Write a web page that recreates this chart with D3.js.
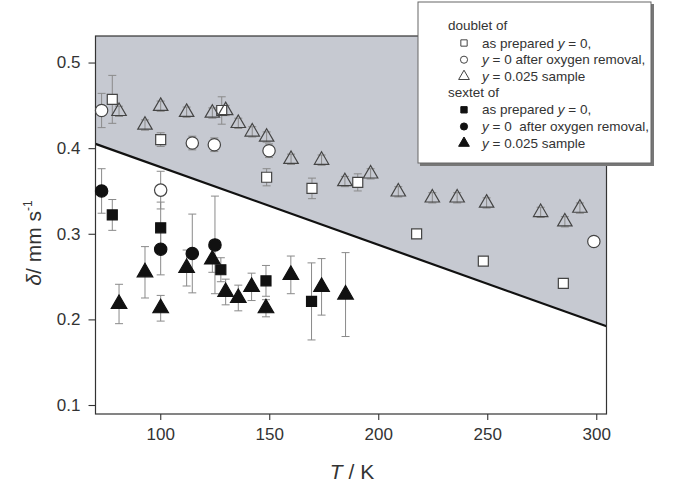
<!DOCTYPE html>
<html>
<head>
<meta charset="utf-8">
<script src="https://cdn.jsdelivr.net/npm/d3@7"></script>
<style>
  body { margin: 0; background: #fff; }
  text { font-family: "Liberation Sans", Arial, sans-serif; fill: #333; }
</style>
</head>
<body>
<div class="graph"></div>
<script>
// [T (K), delta (mm/s), error]
const doubletPrepared = [[78.0,0.457,0.028],[100.2,0.410,0.008],[128.2,0.444,0.016],[148.8,0.366,0.010],[169.6,0.353,0.012],[190.6,0.360,0.010],[217.6,0.300,0.005],[248.2,0.268,0.005],[284.9,0.242,0.005]];
const doubletRemoved = [[73.1,0.444,0.020],[100.2,0.351,0.022],[114.7,0.406,0.008],[124.8,0.404,0.008],[149.9,0.397,0.008],[298.9,0.291,0.004]];
const doubletSample = [[81.1,0.443,0.006],[93.0,0.427,0.006],[100.2,0.449,0.006],[112.1,0.442,0.006],[123.9,0.441,0.006],[130.0,0.444,0.006],[135.8,0.429,0.006],[142.2,0.419,0.006],[148.8,0.413,0.006],[160.0,0.387,0.006],[174.0,0.386,0.006],[184.7,0.361,0.006],[196.5,0.370,0.006],[209.2,0.349,0.006],[224.8,0.342,0.006],[236.2,0.342,0.006],[249.7,0.336,0.006],[274.5,0.325,0.006],[285.6,0.314,0.006],[292.5,0.330,0.006]];
const sextetPrepared = [[78.0,0.322,0.018],[100.2,0.307,0.030],[127.8,0.258,0.014],[148.5,0.245,0.018],[169.4,0.221,0.045]];
const sextetRemoved = [[73.1,0.350,0.026],[100.2,0.282,0.030],[114.7,0.277,0.046],[125.1,0.287,0.057]];
const sextetSample = [[81.1,0.218,0.023],[93.0,0.255,0.030],[100.2,0.213,0.015],[112.1,0.260,0.021],[123.9,0.270,0.015],[130.0,0.232,0.015],[135.8,0.225,0.015],[141.9,0.238,0.016],[148.5,0.213,0.010],[159.9,0.252,0.022],[174.0,0.238,0.033],[185.0,0.229,0.049]];
// boundary line (T, delta)
const lineT = [70.3, 304.7];
const lineV = [0.405, 0.192];
const xTicks = [100, 150, 200, 250, 300];
const yTicks = [0.1, 0.2, 0.3, 0.4, 0.5];
const legendGroups = ["doublet of", "sextet of"];
const legendLabels = ["as prepared |y| = 0,", "|y| = 0 after oxygen removal,", "|y| = 0.025 sample",
                      "as prepared |y| = 0,", "|y| = 0  after oxygen removal,", "|y| = 0.025 sample"];

const W = 699, H = 486;
const m = {left: 95.5, right: 92.5, top: 36, bottom: 72};

const svg = d3.select('.graph').append('svg')
    .attr('width', W).attr('height', H);

const x = d3.scaleLinear().domain([70.3, 304.7]).range([m.left, W - m.right]);
const y = d3.scaleLinear().domain([0.0895, 0.531]).range([H - m.bottom, m.top]);

// zone grise au-dessus de la droite
svg.append('path')
    .attr('d', 'M' + x(lineT[0]) + ',' + y(0.531) + 'L' + x(lineT[1]) + ',' + y(0.531) +
               'L' + x(lineT[1]) + ',' + y(lineV[1]) + 'L' + x(lineT[0]) + ',' + y(lineV[0]) + 'Z')
    .attr('fill', '#c6c9d1');

svg.append('line')
    .attr('x1', x(lineT[0])).attr('y1', y(lineV[0]))
    .attr('x2', x(lineT[1])).attr('y2', y(lineV[1]))
    .attr('stroke', '#111').attr('stroke-width', 2.2);

// cadre
svg.append('rect')
    .attr('x', m.left).attr('y', m.top)
    .attr('width', W - m.left - m.right).attr('height', H - m.top - m.bottom)
    .attr('fill', 'none').attr('stroke', '#333').attr('stroke-width', 1.2);

// axes
const xAxis = svg.append('g').attr('transform', 'translate(0,' + (H - m.bottom) + ')');
xAxis.call(d3.axisBottom(x).tickValues(d3.range(75, 305, 25)).tickSize(4).tickFormat(''));
xAxis.call(d3.axisBottom(x).tickValues(xTicks).tickSize(6).tickPadding(8).tickFormat(d3.format('d')));
const yAxis = svg.append('g').attr('transform', 'translate(' + m.left + ',0)');
yAxis.call(d3.axisLeft(y).tickValues([0.15, 0.25, 0.35, 0.45]).tickSize(4).tickFormat(''));
yAxis.call(d3.axisLeft(y).tickValues(yTicks).tickSize(7).tickPadding(8).tickFormat(d3.format('.1f')));
svg.selectAll('.domain').remove();
svg.selectAll('.tick line').attr('stroke', '#333').attr('stroke-width', 1.1);
svg.selectAll('.tick text').style('font-size', '17px').attr('fill', '#333');

// titres des axes
const xt = svg.append('text').attr('x', 352).attr('y', 479).attr('text-anchor', 'middle').style('font-size', '21px');
xt.append('tspan').style('font-style', 'italic').text('T');
xt.append('tspan').text(' / K');
const yt = svg.append('text').attr('transform', 'translate(41,243) rotate(-90)')
    .attr('text-anchor', 'middle').style('font-size', '21px');
yt.append('tspan').style('font-style', 'italic').text('δ');
yt.append('tspan').text('/ mm s');
yt.append('tspan').attr('dy', -9).style('font-size', '12px').text('-1');

// séries
const series = [
  {data: doubletPrepared, shape: d3.symbolSquare, size: 100, fill: '#fff'},
  {data: doubletRemoved, shape: d3.symbolCircle, size: 120, fill: '#fff'},
  {data: doubletSample, shape: d3.symbolTriangle, size: 90, fill: 'none'},
  {data: sextetPrepared, shape: d3.symbolSquare, size: 100, fill: '#111'},
  {data: sextetRemoved, shape: d3.symbolCircle, size: 120, fill: '#111'},
  {data: sextetSample, shape: d3.symbolTriangle, size: 105, fill: '#111'}
];

const bars = svg.append('g');
series.forEach(function (s) {
  s.data.forEach(function (d) {
    const cx = x(d[0]);
    bars.append('line').attr('x1', cx).attr('x2', cx)
        .attr('y1', y(d[1] - d[2])).attr('y2', y(d[1] + d[2]));
    [d[1] - d[2], d[1] + d[2]].forEach(function (v) {
      bars.append('line').attr('x1', cx - 4).attr('x2', cx + 4)
          .attr('y1', y(v)).attr('y2', y(v));
    });
  });
});
bars.selectAll('line').attr('stroke', '#8a8a8a').attr('stroke-width', 1);

series.forEach(function (s) {
  svg.append('g').selectAll('path').data(s.data).enter().append('path')
      .attr('d', d3.symbol().type(s.shape).size(s.size))
      .attr('transform', d => 'translate(' + x(d[0]) + ',' + y(d[1]) + ')')
      .attr('fill', s.fill)
      .attr('stroke', s.fill === '#111' ? '#111' : '#444')
      .attr('stroke-width', 1.2);
});

// légende
const lg = svg.append('g');
lg.append('rect').attr('x', 420).attr('y', 4).attr('width', 234).attr('height', 162).attr('fill', '#777');
lg.append('rect').attr('x', 418).attr('y', 2).attr('width', 233).attr('height', 161)
    .attr('fill', '#fff').attr('stroke', '#666').attr('stroke-width', 1);
legendGroups.forEach(function (g, i) {
  lg.append('text').attr('x', 448).attr('y', 30 + i * 67).style('font-size', '13.5px').text(g);
});
legendLabels.forEach(function (l, i) {
  const cy = 43 + i * 16.7 + (i >= 3 ? 16.7 : 0);
  const s = series[i];
  lg.append('path')
      .attr('d', d3.symbol().type(s.shape).size(s.shape === d3.symbolTriangle ? 50 : 40))
      .attr('transform', 'translate(464,' + cy + ')')
      .attr('fill', s.fill === 'none' ? '#fff' : s.fill)
      .attr('stroke', s.fill === '#111' ? '#111' : '#444').attr('stroke-width', 1);
  const t = lg.append('text').attr('x', 482).attr('y', cy + 4.5).style('font-size', '13.5px');
  l.split('|').forEach(function (part, j) {
    const ts = t.append('tspan').text(part).attr('xml:space', 'preserve');
    if (j % 2 === 1) ts.style('font-style', 'italic');
  });
});
</script>
</body>
</html>
